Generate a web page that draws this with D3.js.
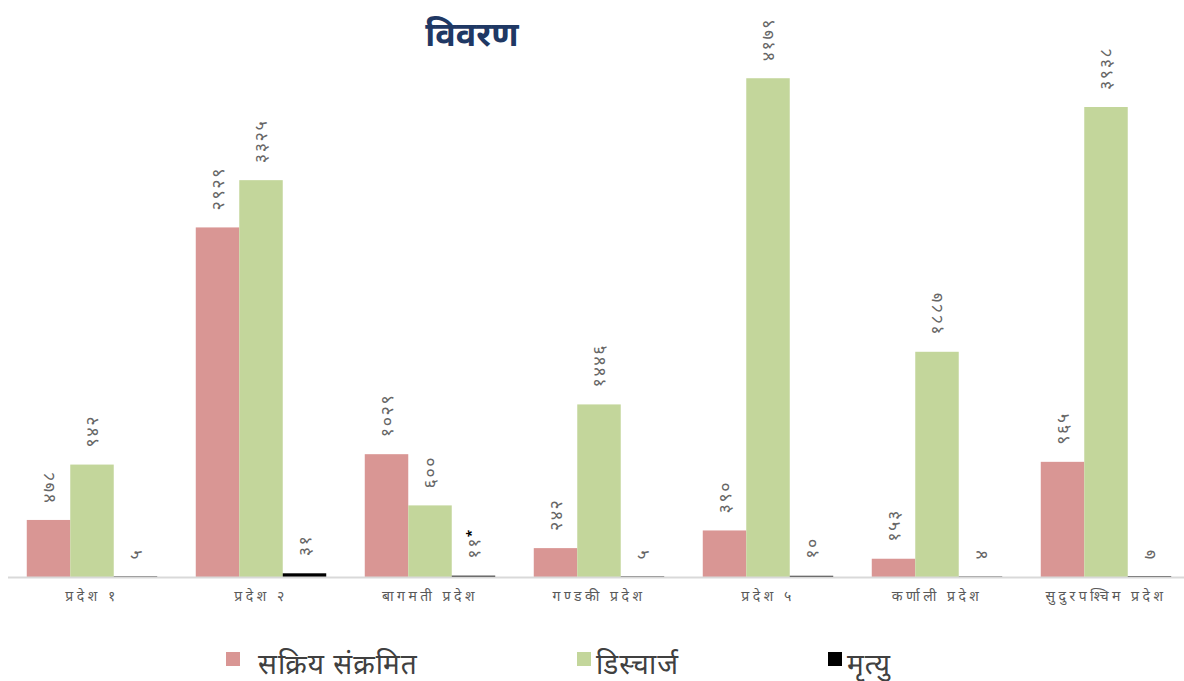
<!DOCTYPE html>
<html>
<head>
<meta charset="utf-8">
<script src="https://d3js.org/d3.v7.min.js"></script>
<style>
  body { margin: 0; background: #fff; }
  text { font-family: "Noto Sans", "Noto Sans Devanagari", sans-serif; }
</style>
</head>
<body>
<svg id="chart"></svg>
<script>
// Provinces (x axis categories)
const provinces = ["प्रदेश १", "प्रदेश २", "बागमती प्रदेश", "गण्डकी प्रदेश", "प्रदेश ५", "कर्णाली प्रदेश", "सुदुरपश्चिम प्रदेश"];

// Series
const seriesNames = ["सक्रिय संक्रमित", "डिस्चार्ज", "मृत्यु"];
const seriesColors = ["#d99694", "#c3d69b", "#000000"];

const active = [478, 2929, 1029, 242, 390, 153, 965];
const discharged = [942, 3325, 600, 1446, 4179, 1887, 3938];
const deaths = [5, 31, 11, 5, 10, 4, 7];

// labels on some bars carry a footnote mark
const deathNotes = ["", "", "*", "", "", "", ""];

const width = 1184;
const height = 681;

const svg = d3.select("#chart")
  .attr("width", width)
  .attr("height", height);

// Devanagari digits for the data labels
const devDigits = "०१२३४५६७८९";
const toDev = n => String(n).replace(/[0-9]/g, c => devDigits[+c]);

const baseline = 577;

const x0 = d3.scaleBand()
  .domain(provinces)
  .range([7.5, 1190.5])
  .paddingInner(0.228)
  .paddingOuter(0.114);

const x1 = d3.scaleBand()
  .domain(seriesNames)
  .range([0, x0.bandwidth()]);

const y = d3.scaleLinear()
  .domain([0, 4500])
  .range([baseline, baseline - 4500 * 0.11935]);

// build rows from the arrays
const values = [active, discharged, deaths];
const rows = provinces.map((p, i) => ({
  province: p,
  bars: seriesNames.map((s, j) => ({
    series: s,
    value: values[j][i],
    note: j === 2 ? deathNotes[i] : "",
    color: seriesColors[j]
  }))
}));

// title
svg.append("text")
  .attr("x", 472)
  .attr("y", 46)
  .attr("text-anchor", "middle")
  .attr("font-size", 34)
  .attr("font-weight", "bold")
  .attr("fill", "#1f3864")
  .text("विवरण");

const groups = svg.selectAll("g.group")
  .data(rows)
  .enter()
  .append("g")
  .attr("class", "group")
  .attr("transform", d => `translate(${x0(d.province)},0)`);

groups.selectAll("rect")
  .data(d => d.bars)
  .enter()
  .append("rect")
  .attr("x", d => x1(d.series))
  .attr("y", d => y(d.value))
  .attr("width", x1.bandwidth())
  .attr("height", d => baseline - y(d.value))
  .attr("fill", d => d.color);

// rotated value labels
const labels = groups.selectAll("text.val")
  .data(d => d.bars)
  .enter()
  .append("text")
  .attr("class", "val")
  .attr("transform", d => `translate(${x1(d.series) + x1.bandwidth() / 2},${y(d.value) - 17}) rotate(-90)`)
  .attr("dy", "0.35em")
  .attr("font-size", 18)
  .attr("letter-spacing", 1.5)
  .attr("fill", "#666666");

labels.append("tspan").text(d => toDev(d.value));
labels.filter(d => d.note)
  .append("tspan")
  .attr("font-size", 13)
  .attr("font-weight", "bold")
  .attr("fill", "#000")
  .attr("dy", "-0.3em")
  .text(d => d.note);

// x axis
const xAxis = svg.append("g")
  .attr("transform", `translate(0,${baseline})`)
  .call(d3.axisBottom(x0).tickSize(0).tickPadding(14));

xAxis.select(".domain").remove();
svg.append("line")
  .attr("x1", 8)
  .attr("x2", width)
  .attr("y1", baseline + 0.5)
  .attr("y2", baseline + 0.5)
  .attr("stroke", "#d9d9d9")
  .attr("stroke-width", 2);

xAxis.selectAll("text")
  .attr("font-size", 14)
  .attr("letter-spacing", 3.5)
  .attr("fill", "#595959");

// legend
const legendX = [226, 577, 828];
const legend = svg.selectAll("g.legend")
  .data(seriesNames)
  .enter()
  .append("g")
  .attr("class", "legend")
  .attr("transform", (d, i) => `translate(${legendX[i]},652)`);

legend.append("rect")
  .attr("width", 14)
  .attr("height", 14)
  .attr("fill", (d, i) => seriesColors[i]);

legend.append("text")
  .attr("x", (d, i) => i === 0 ? 32 : 19)
  .attr("y", 12)
  .attr("dy", "0.35em")
  .attr("font-size", 28)
  .attr("letter-spacing", 1)
  .attr("fill", "#404040")
  .text(d => d);
</script>
</body>
</html>
